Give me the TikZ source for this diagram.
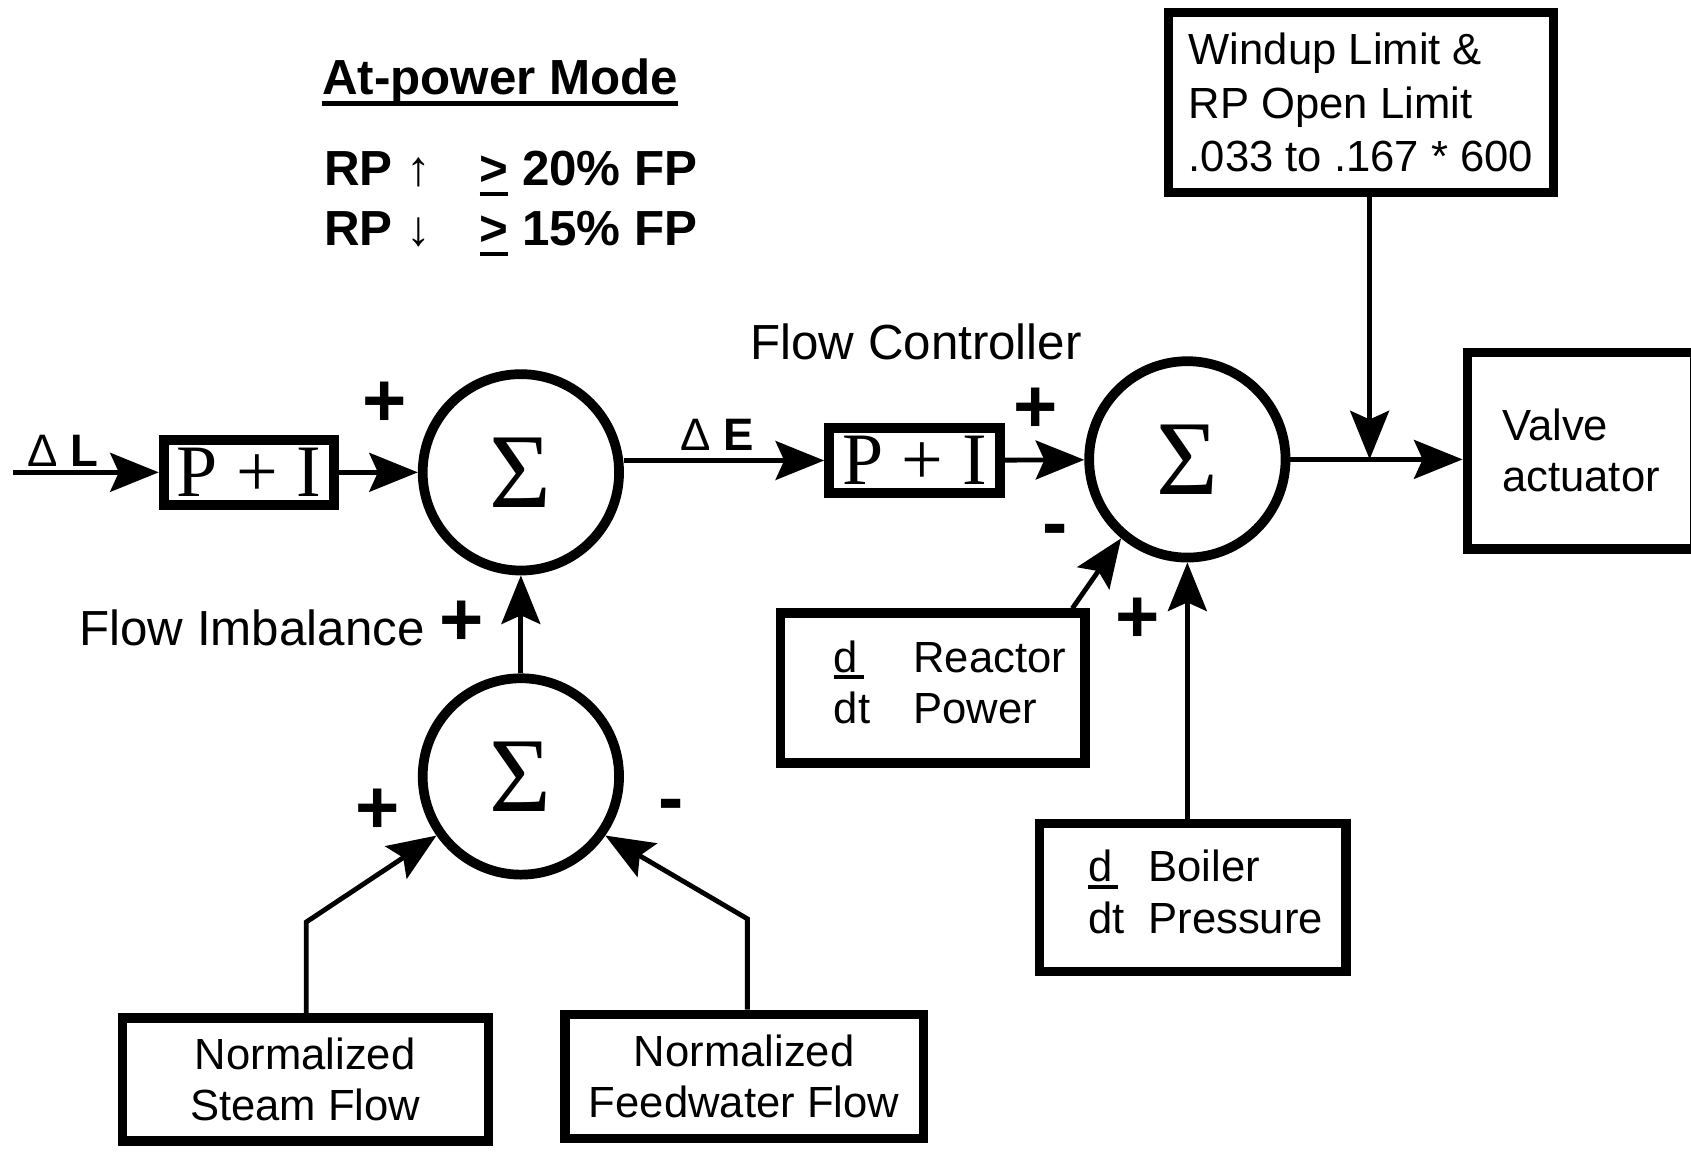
\documentclass[tikz,border=0pt]{standalone}
\usepackage{fontspec}
\setmainfont{Liberation Sans}
\newfontfamily\timesfam{Liberation Serif}
\usetikzlibrary{arrows.meta,calc,positioning}
% thick underline (as in the scanned original)
\newcommand{\heavyul}[2][-3pt]{\setbox0\hbox{#2}\rlap{\rule[#1]{\wd0}{1.1pt}}\box0\relax}

\begin{document}
\begin{tikzpicture}[x=0.01cm,y=-0.01cm,>={Stealth[length=0.45cm,width=0.36cm,inset=0.08cm]},
  sumnode/.style={draw,circle,line width=0.09cm,minimum size=1.82cm,inner sep=0pt,font=\timesfam\fontsize{28}{30}\selectfont},
  pibox/.style={draw,line width=0.095cm,minimum width=1.58cm,minimum height=0.6cm,inner sep=0pt,font=\timesfam\fontsize{19.5}{22}\selectfont},
  blk/.style={draw,line width=0.085cm,inner sep=0pt,font=\fontsize{11.5}{13.5}\selectfont},
  lbl/.style={inner sep=0pt,font=\fontsize{13}{15}\selectfont},
  sign/.style={inner sep=0pt,font=\fontsize{20}{20}\selectfont\bfseries},
  wire/.style={line width=0.045cm,->}]
\useasboundingbox (0,0) rectangle (1568,1068);
% mode notes
\node[lbl,anchor=base west,font=\fontsize{13}{15}\selectfont\bfseries] (title) at (298,88) {\heavyul[-2.8pt]{At-power Mode}};
\node[lbl,anchor=base west,font=\fontsize{13}{15.9}\selectfont\bfseries] (rp) at (300,172)
  {\begin{tabular}[t]{@{}l@{\hspace{0.45cm}}l@{}}RP {\mdseries ↑} & \heavyul[-2.8pt]{>} 20\% FP\\ RP {\mdseries ↓} & \heavyul[-2.8pt]{>} 15\% FP\end{tabular}};
% level loop and flow controller
\coordinate (dlin) at (12,438);
\node[lbl,anchor=base west,font=\fontsize{12}{14}\selectfont] (dl) at (25,433) {Δ \textbf{L}};
\node[pibox] (pi1) at (231,438) {P + I};
\node[sumnode] (s1) at (483,438) {Σ};
\node[lbl,anchor=base west,font=\fontsize{12}{14}\selectfont] (de) at (630,418) {Δ \textbf{E}};
\node[lbl,anchor=base west] (fcl) at (695,333) {Flow Controller};
\node[pibox] (pi2) at (848,427) {P + I};
\node[sumnode] (s2) at (1101,426) {Σ};
\node[blk,minimum width=2.11cm,minimum height=1.82cm,align=left] (valve) at (1466,418) {Valve\\actuator};
\node[blk,minimum width=3.57cm,minimum height=1.67cm,align=left,font=\fontsize{11.5}{14}\selectfont] (windup) at (1262,95) {Windup Limit \&\\RP Open Limit\\.033 to .167 * 600};
\coordinate (jn) at (1270,426);
% flow imbalance
\node[sumnode] (s3) at (483,720) {Σ};
\node[lbl,anchor=base west] (fil) at (73,599) {Flow Imbalance};
\node[blk,minimum width=3.39cm,minimum height=1.14cm,align=center] (steam) at (283,1001) {Normalized\\Steam Flow};
\node[blk,minimum width=3.32cm,minimum height=1.15cm,align=center] (feed) at (690,998) {Normalized\\Feedwater Flow};
\coordinate (sc) at (284,855);
\coordinate (fc) at (693,852);
% derivative inputs
\node[blk,minimum width=2.82cm,minimum height=1.39cm] (reactor) at (865,638)
  {\hspace*{0.32cm}\begin{tabular}{@{}l@{\hspace{0.4cm}}l@{}}\heavyul[-1.8pt]{d\kern1.5pt} & Reactor\\ dt & Power\end{tabular}};
\node[blk,minimum width=2.84cm,minimum height=1.37cm] (boiler) at (1106,832)
  {\hspace*{0.24cm}\begin{tabular}{@{}l@{\hspace{0.22cm}}l@{}}\heavyul[-1.8pt]{d\kern1.5pt} & Boiler\\ dt & Pressure\end{tabular}};
% signs
\foreach \px/\py/\sg [count=\i] in {357/375/+,960/380/+,978/497/-,428/578/+,1055/575/+,350/752/+,622/752/-}
  \node[sign] (sg\i) at (\px,\py) {\sg};
% connectors
\draw[wire] (dlin) -- (pi1);
\draw[wire] (pi1) -- (s1);
\draw[wire] (s1.east |- pi2) -- (pi2);
\draw[wire] (pi2) -- (s2);
\draw[wire] (s2.east) -- (s2.east -| valve.west);
\draw[wire] (jn |- windup.south) -- (jn);
\draw[wire] (s3) -- (s1);
\draw[wire] (sc |- steam.north) -- (sc) -- (s3.215);
\draw[wire] (fc |- feed.north) -- (fc) -- (s3.325);
\draw[wire] ($(reactor.north east)+(-16,0)$) -- (s2.230);
\draw[wire] (s2 |- boiler.north) -- (s2);
\end{tikzpicture}
\end{document}
